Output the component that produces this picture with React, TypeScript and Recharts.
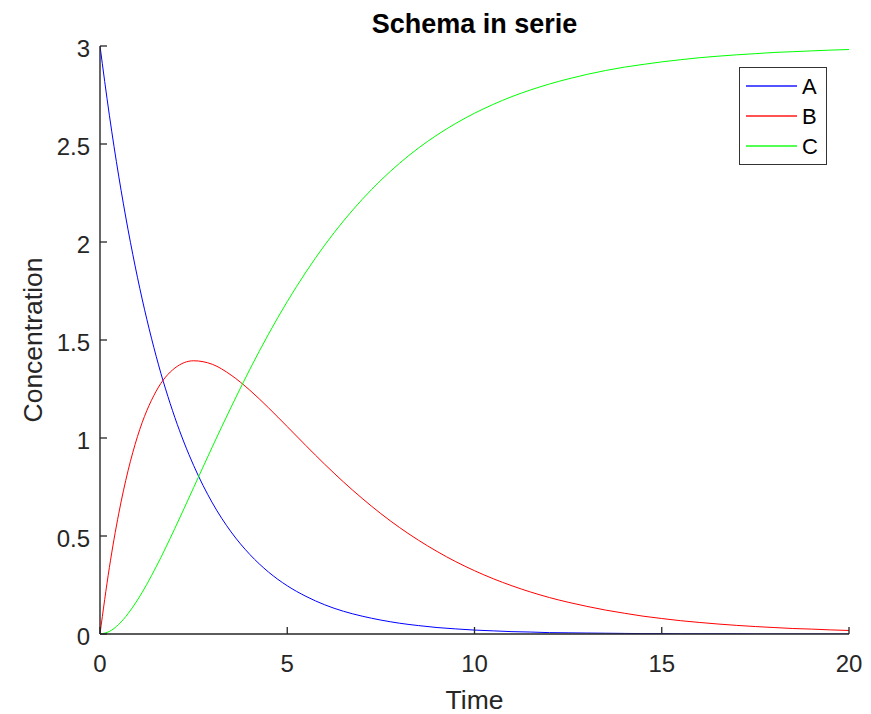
import React from 'react';
import { LineChart, Line, XAxis, YAxis, Legend, Customized } from 'recharts';

const T = [0, 0.25, 0.5, 0.75, 1, 1.5, 2, 2.5, 3, 3.5, 4, 4.5, 5, 5.5, 6, 6.5, 7, 7.5, 8, 8.5, 9, 9.5, 10, 10.5, 11, 11.5, 12, 12.5, 13, 13.5, 14, 14.5, 15, 15.5, 16, 16.5, 17, 17.5, 18, 18.5, 19, 19.5, 20];
const A = [3, 2.647, 2.336, 2.062, 1.82, 1.417, 1.104, 0.86, 0.669, 0.521, 0.406, 0.316, 0.246, 0.192, 0.149, 0.116, 0.091, 0.071, 0.055, 0.043, 0.033, 0.026, 0.02, 0.016, 0.012, 0.01, 0.007, 0.006, 0.005, 0.004, 0.003, 0.002, 0.002, 0.001, 0.001, 0.001, 0.001, 0, 0, 0, 0, 0, 0];
const B = [0, 0.339, 0.614, 0.834, 1.007, 1.239, 1.357, 1.394, 1.376, 1.321, 1.244, 1.154, 1.058, 0.961, 0.866, 0.776, 0.692, 0.614, 0.543, 0.479, 0.421, 0.369, 0.323, 0.282, 0.246, 0.214, 0.186, 0.162, 0.141, 0.122, 0.106, 0.091, 0.079, 0.068, 0.059, 0.051, 0.044, 0.038, 0.033, 0.028, 0.025, 0.021, 0.018];
const C = [0, 0.013, 0.049, 0.104, 0.173, 0.343, 0.539, 0.747, 0.955, 1.157, 1.35, 1.53, 1.696, 1.847, 1.984, 2.107, 2.217, 2.315, 2.402, 2.479, 2.546, 2.605, 2.657, 2.702, 2.742, 2.776, 2.806, 2.832, 2.855, 2.875, 2.892, 2.906, 2.919, 2.93, 2.94, 2.948, 2.955, 2.961, 2.967, 2.971, 2.975, 2.979, 2.982];

const X_TICKS = [0, 5, 10, 15, 20];
const Y_TICKS = [0, 0.5, 1, 1.5, 2, 2.5, 3];
const SERIES = ['A', 'B', 'C'];
const COLORS: Record<string, string> = { A: '#0000ff', B: '#ff0000', C: '#00ff00' };
const TITLE = 'Schema in serie';
const X_LABEL = 'Time';
const Y_LABEL = 'Concentration';

const data = T.map((t, i) => ({ t, A: A[i], B: B[i], C: C[i] }));

const FONT = '"Liberation Sans", Arial, Helvetica, sans-serif';
const AXIS = '#262626';

const XTick = (props: any) => {
  const { x, y, payload } = props;
  return (
    <g>
      <line x1={x} x2={x} y1={y} y2={y - 7} stroke={AXIS} strokeWidth={1.3} />
      <text x={x} y={y + 38} textAnchor="middle" fontSize={24} fill={AXIS} fontFamily={FONT}>
        {payload.value}
      </text>
    </g>
  );
};

const YTick = (props: any) => {
  const { x, y, payload } = props;
  return (
    <g>
      <line x1={x} x2={x + 7} y1={y} y2={y} stroke={AXIS} strokeWidth={1.3} />
      <text x={x - 10} y={y + 10.8} textAnchor="end" fontSize={24} fill={AXIS} fontFamily={FONT}>
        {payload.value}
      </text>
    </g>
  );
};

const XLabel = (props: any) => {
  const vb = props.viewBox || {};
  return (
    <text x={vb.x + vb.width / 2} y={vb.y + 75} textAnchor="middle" fontSize={26.5} fill={AXIS} fontFamily={FONT}>
      {X_LABEL}
    </text>
  );
};

const YLabel = (props: any) => {
  const vb = props.viewBox || {};
  const cx = vb.x + 42;
  const cy = vb.y + vb.height / 2;
  return (
    <text x={cx} y={cy} transform={`rotate(-90, ${cx}, ${cy})`} textAnchor="middle" fontSize={26.5} fill={AXIS} fontFamily={FONT}>
      {Y_LABEL}
    </text>
  );
};

const Title = (props: any) => {
  const off = props.offset || { left: 100, width: 749 };
  return (
    <text x={off.left + off.width / 2} y={33} textAnchor="middle" fontSize={27} fontWeight="bold" fill="#000" fontFamily={FONT}>
      {TITLE}
    </text>
  );
};

const LegendBox = (props: any) => {
  const payload = props.payload || [];
  return (
    <svg width={89} height={98} style={{ display: 'block' }}>
      <rect x={0.5} y={0.5} width={87} height={97} fill="#fff" stroke="#333" strokeWidth={1} />
      {SERIES.map((s, i) => {
        const p = payload.find((q: any) => q.value === s || q.dataKey === s);
        return (
          <g key={s}>
            <line x1={7} x2={58} y1={19 + i * 30} y2={19 + i * 30} stroke={COLORS[s]} strokeOpacity={0.9} strokeWidth={1.3} />
            <text x={63} y={26.5 + i * 30} fontSize={22} fill="#000" fontFamily={FONT}>
              {p ? p.value : s}
            </text>
          </g>
        );
      })}
    </svg>
  );
};

export default function App() {
  return (
    <div style={{ position: 'absolute', left: 0, top: 0, width: 871, height: 714, background: '#fff' }}>
      <LineChart width={871} height={714} data={data} margin={{ top: 46, right: 22, bottom: 0, left: 0 }}>
        <XAxis
          dataKey="t"
          type="number"
          domain={[0, 20]}
          ticks={X_TICKS}
          tickSize={0}
          tickMargin={0}
          tickLine={false}
          tick={<XTick />}
          axisLine={{ stroke: AXIS, strokeWidth: 1.4 }}
          height={80}
          allowDataOverflow
          label={<XLabel />}
        />
        <YAxis
          type="number"
          domain={[0, 3]}
          ticks={Y_TICKS}
          tickSize={0}
          tickMargin={0}
          tickLine={false}
          tick={<YTick />}
          axisLine={{ stroke: AXIS, strokeWidth: 1.4 }}
          width={100}
          allowDataOverflow
          label={<YLabel />}
        />
        <Legend
          layout="vertical"
          align="center"
          verticalAlign="middle"
          content={<LegendBox />}
          wrapperStyle={{ left: 739, top: 67, width: 89, height: 98 }}
        />
        {SERIES.map((s) => (
          <Line key={s} dataKey={s} name={s} type="monotone" stroke={COLORS[s]} strokeWidth={1} dot={false} activeDot={false} isAnimationActive={false} />
        ))}
        <Customized component={Title} />
      </LineChart>
    </div>
  );
}
